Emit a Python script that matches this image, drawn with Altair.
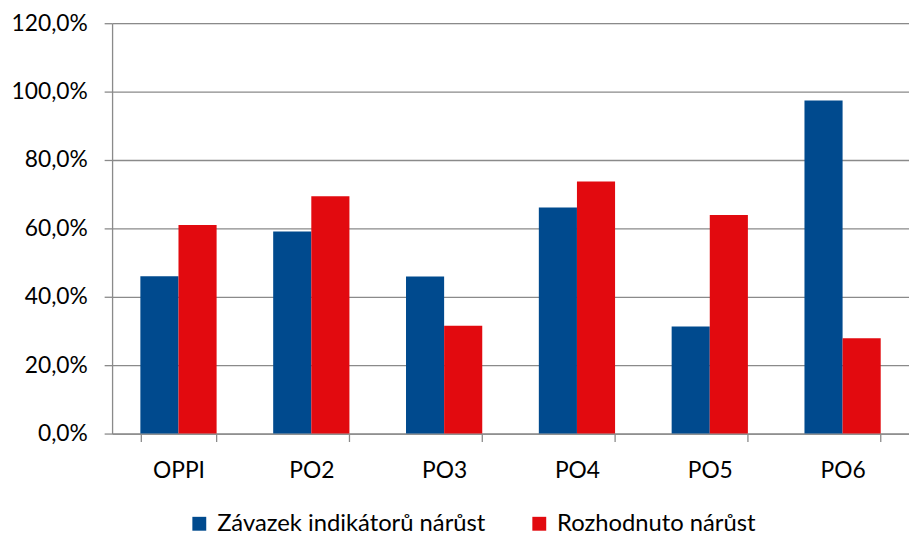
import altair as alt
import pandas as pd

categories = ["OPPI", "PO2", "PO3", "PO4", "PO5", "PO6"]
series_names = ["Závazek indikátorů nárůst", "Rozhodnuto nárůst"]
zavazek = [46.0, 59.1, 45.9, 66.1, 31.3, 97.4]
rozhodnuto = [61.0, 69.4, 31.5, 73.7, 63.9, 27.9]
y_ticks = [0, 20, 40, 60, 80, 100, 120]
colors = ["#004A8E", "#E20A0F"]

rows = []
for c, a, b in zip(categories, zavazek, rozhodnuto):
    rows.append({"cat": c, "serie": series_names[0], "val": a})
    rows.append({"cat": c, "serie": series_names[1], "val": b})
df = pd.DataFrame(rows)

FONT = "Lato"
GRID = "#8A8A8A"
FS = 23

chart = (
    alt.Chart(df)
    .mark_bar()
    .encode(
        x=alt.X(
            "cat:N",
            sort=categories,
            title=None,
            scale=alt.Scale(paddingInner=0.426, paddingOuter=0.213),
            axis=alt.Axis(
                labelAngle=0,
                tickBand="extent",
                tickSize=8,
                tickColor=GRID,
                tickWidth=1.3,
                domainColor=GRID,
                domainWidth=1.3,
                labelFont=FONT,
                labelFontSize=FS,
                labelColor="#000000",
                labelPadding=18,
                grid=False,
            ),
        ),
        xOffset=alt.XOffset(
            "serie:N", sort=series_names, scale=alt.Scale(paddingInner=0, paddingOuter=0)
        ),
        y=alt.Y(
            "val:Q",
            title=None,
            scale=alt.Scale(domain=[0, 120], nice=False),
            axis=alt.Axis(
                values=y_ticks,
                labelExpr="replace(format(datum.value, '.1f'), '.', ',') + '%'",
                tickSize=8,
                tickColor=GRID,
                tickWidth=1.3,
                domainColor=GRID,
                domainWidth=1.3,
                gridColor=GRID,
                gridWidth=1.3,
                labelFont=FONT,
                labelFontSize=FS,
                labelColor="#000000",
                labelPadding=17,
            ),
        ),
        color=alt.Color(
            "serie:N",
            sort=series_names,
            scale=alt.Scale(domain=series_names, range=colors),
            legend=alt.Legend(
                title=None,
                orient="none",
                direction="horizontal",
                legendX=76,
                legendY=493,
                symbolType="square",
                symbolSize=196,
                symbolStrokeWidth=0,
                labelFont=FONT,
                labelFontSize=24,
                labelColor="#000000",
                labelLimit=0,
                labelOffset=6,
                columnPadding=42,
            ),
        ),
    )
    .properties(
        width=804,
        height=414,
        padding={"left": 105, "top": 13, "right": 0, "bottom": 101},
        autosize=alt.AutoSizeParams(type="none"),
    )
    .configure_view(stroke=None)
    .configure(background="#FFFFFF")
)

chart.save("out.html", embed_options={"renderer": "svg", "actions": False})
